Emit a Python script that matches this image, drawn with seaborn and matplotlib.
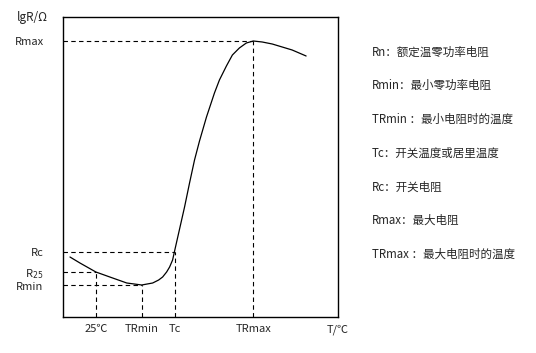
import matplotlib
matplotlib.use("Agg")
import matplotlib.pyplot as plt
import seaborn as sns
import pandas as pd

sns.set_theme(style="white")
plt.rcParams['font.family'] = ['Noto Sans CJK SC', 'DejaVu Sans']

# curve (arbitrary units)
temp = [7, 17, 33, 47, 64, 79, 90, 96, 100, 104, 107, 110, 112, 117, 122, 127, 132, 137, 144,
        152, 157, 164, 170, 177, 184, 191, 200, 210, 230, 244]
lgr = [60, 54, 45, 40, 34, 32, 34, 37, 40, 45, 50, 57, 66, 88, 110, 134, 157, 176, 200,
       224, 237, 251, 262, 269, 274, 276, 275, 273, 267, 261]

# marked points: (temperature, resistance)
mark_t = [33, 79, 112, 191]
mark_r = [45, 32, 65, 276]
x_labels = ['25℃', 'TRmin', 'Tc', 'TRmax']
y_pos = [276, 65, 45, 31]
y_labels = ['Rmax', 'Rc', 'R$_{25}$', 'Rmin']

notes = ['Rn：额定温零功率电阻', 'Rmin：最小零功率电阻', 'TRmin ：最小电阻时的温度',
         'Tc：开关温度或居里温度', 'Rc：开关电阻', 'Rmax：最大电阻', 'TRmax ：最大电阻时的温度']

df = pd.DataFrame({'T': temp, 'lgR': lgr})

fig = plt.figure(figsize=(5.36, 3.53), dpi=100)
ax = fig.add_axes([63 / 536, 36 / 353, 275 / 536, 300 / 353])
sns.lineplot(data=df, x='T', y='lgR', ax=ax, color='black', lw=0.9, sort=False)

for t, r in zip(mark_t, mark_r):
    ax.plot([0, t], [r, r], color='black', lw=0.8, ls=(0, (4, 3)))
    ax.plot([t, t], [0, r], color='black', lw=0.8, ls=(0, (4, 3)))

ax.set_xlim(0, 275)
ax.set_ylim(0, 300)
ax.set_xticks(mark_t + [276], x_labels + ['T/℃'])
ax.set_yticks(y_pos, y_labels)
ax.tick_params(length=0, labelsize=8)
ax.tick_params(axis='y', pad=14)
ax.tick_params(axis='x', pad=5)
ax.set_xlabel('')
ax.set_ylabel('')
for s in ax.spines.values():
    s.set_color('black')
    s.set_linewidth(1.0)

fig.text(17 / 536, 1 - 17 / 353, 'lgR/Ω', fontsize=8.5, va='center', ha='left')

for i, n in enumerate(notes):
    fig.text(372 / 536, 1 - (52 + i * 33.7) / 353, n, fontsize=8.3, va='center', ha='left')

fig.savefig('out.png', dpi=100, facecolor='white')
